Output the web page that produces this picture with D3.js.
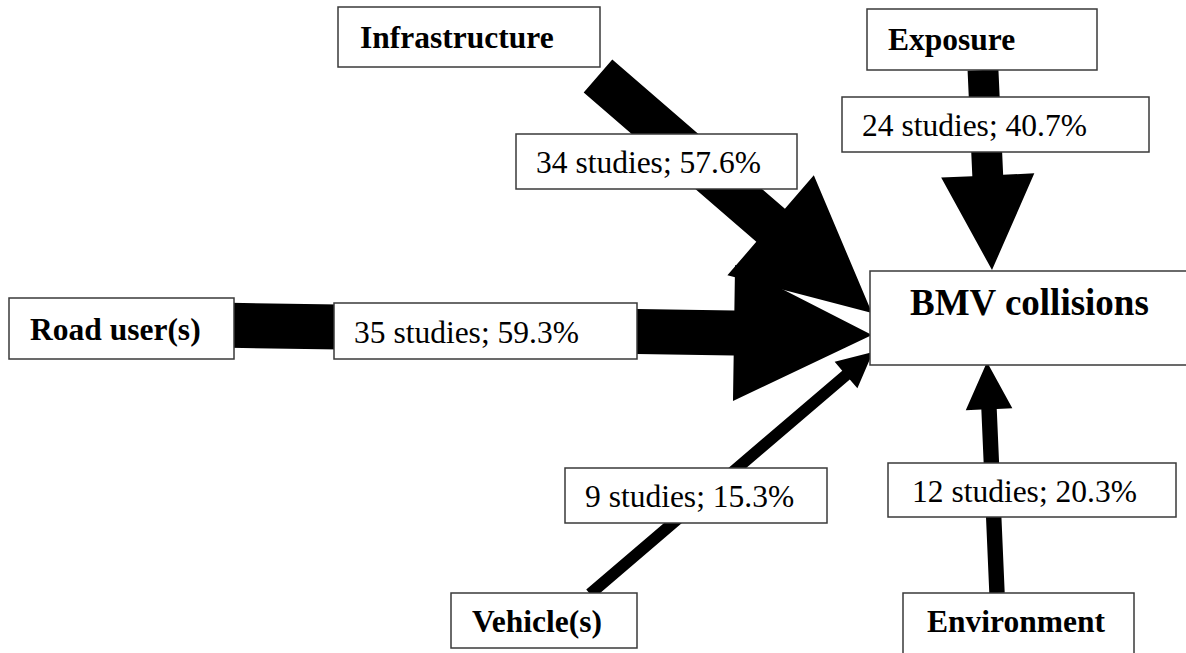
<!DOCTYPE html>
<html>
<head>
<meta charset="utf-8">
<script src="https://cdn.jsdelivr.net/npm/d3@7"></script>
<style>
  html, body { margin: 0; padding: 0; background: #fff; }
  svg { display: block; }
  text { font-family: "Liberation Serif", "Times New Roman", serif; fill: #000; }
</style>
</head>
<body>
<script>
// ---- Data ----
const categories = ["Infrastructure", "Exposure", "Road user(s)", "Vehicle(s)", "Environment"];
const studies = [34, 24, 35, 9, 12];
const percentages = [57.6, 40.7, 59.3, 15.3, 20.3];
const target = "BMV collisions";

// ---- Layout (positions, not data) ----
const W = 1186, H = 653;
const nodeBoxes = {
  "Infrastructure": {x0: 338, y0: 7,   x1: 600,  y1: 67,  tx: 360, ty: 48},
  "Exposure":       {x0: 867, y0: 9,   x1: 1097, y1: 70,  tx: 888, ty: 50},
  "Road user(s)":   {x0: 9,   y0: 298, x1: 234,  y1: 359, tx: 30,  ty: 340},
  "Vehicle(s)":     {x0: 451, y0: 593, x1: 637,  y1: 648, tx: 472, ty: 632},
  "Environment":    {x0: 903, y0: 593, x1: 1134, y1: 662, tx: 927, ty: 632}
};
const labelBoxes = {
  "Infrastructure": {x0: 516, y0: 134, x1: 797,  y1: 189, tx: 536, ty: 173},
  "Exposure":       {x0: 842, y0: 97,  x1: 1149, y1: 152, tx: 862, ty: 136},
  "Road user(s)":   {x0: 334, y0: 303, x1: 637,  y1: 359, tx: 354, ty: 343},
  "Vehicle(s)":     {x0: 565, y0: 468, x1: 827,  y1: 523, tx: 585, ty: 507},
  "Environment":    {x0: 888, y0: 463, x1: 1176, y1: 517, tx: 912, ty: 502}
};
const arrowEnds = {
  "Infrastructure": {tail: [598, 76],    tip: [872, 313]},
  "Exposure":       {tail: [983, 70],    tip: [992, 270]},
  "Road user(s)":   {tail: [230, 325.3], tip: [872, 335]},
  "Vehicle(s)":     {tail: [590, 594],   tip: [873, 352]},
  "Environment":    {tail: [997, 593],   tip: [987, 362]}
};
const targetBox = {x0: 870, y0: 271, x1: 1200, y1: 365, tx: 910, ty: 315};

// scales mapping study counts to arrow dimensions
const shaftW = d3.scaleLinear().domain([0, 35]).range([0, 45]);
const headHalf = d3.scaleLinear().domain([0, 35]).range([0, 68]);
const headLen = d3.scaleLinear().domain([0, 35]).range([0, 138]);

const svg = d3.select("body").append("svg")
  .attr("width", W).attr("height", H);
svg.append("rect").attr("width", W).attr("height", H).attr("fill", "#fff");

const data = categories.map((c, i) => ({cat: c, n: studies[i], p: percentages[i]}));

function arrowPoints(d) {
  const e = arrowEnds[d.cat];
  const [tx, ty] = e.tail, [px, py] = e.tip;
  const dx = px - tx, dy = py - ty, len = Math.hypot(dx, dy);
  const ux = dx / len, uy = dy / len;
  const nx = -uy, ny = ux;
  const w = shaftW(d.n) / 2, h = headHalf(d.n), L = headLen(d.n);
  const bx = px - L * ux, by = py - L * uy;
  return [
    [tx + w * nx, ty + w * ny],
    [bx + w * nx, by + w * ny],
    [bx + h * nx, by + h * ny],
    [px, py],
    [bx - h * nx, by - h * ny],
    [bx - w * nx, by - w * ny],
    [tx - w * nx, ty - w * ny]
  ];
}
const line = d3.line().curve(d3.curveLinearClosed);

// arrows
svg.append("g").selectAll("path").data(data).join("path")
  .attr("d", d => line(arrowPoints(d)))
  .attr("fill", "#000");

function drawBox(g, b, txt, bold, size) {
  g.append("rect")
    .attr("x", b.x0).attr("y", b.y0)
    .attr("width", b.x1 - b.x0).attr("height", b.y1 - b.y0)
    .attr("fill", "#fff").attr("stroke", "#3a3a3a").attr("stroke-width", 1.5);
  g.append("text")
    .attr("x", b.tx).attr("y", b.ty)
    .attr("font-size", size)
    .attr("font-weight", bold ? "bold" : "normal")
    .text(txt);
}

const gBoxes = svg.append("g");
data.forEach(d => {
  drawBox(gBoxes.append("g"), nodeBoxes[d.cat], d.cat, true, 31.5);
  drawBox(gBoxes.append("g"), labelBoxes[d.cat], `${d.n} studies; ${d.p.toFixed(1)}%`, false, 31.5);
});
drawBox(gBoxes.append("g"), targetBox, target, true, 37);
</script>
</body>
</html>
